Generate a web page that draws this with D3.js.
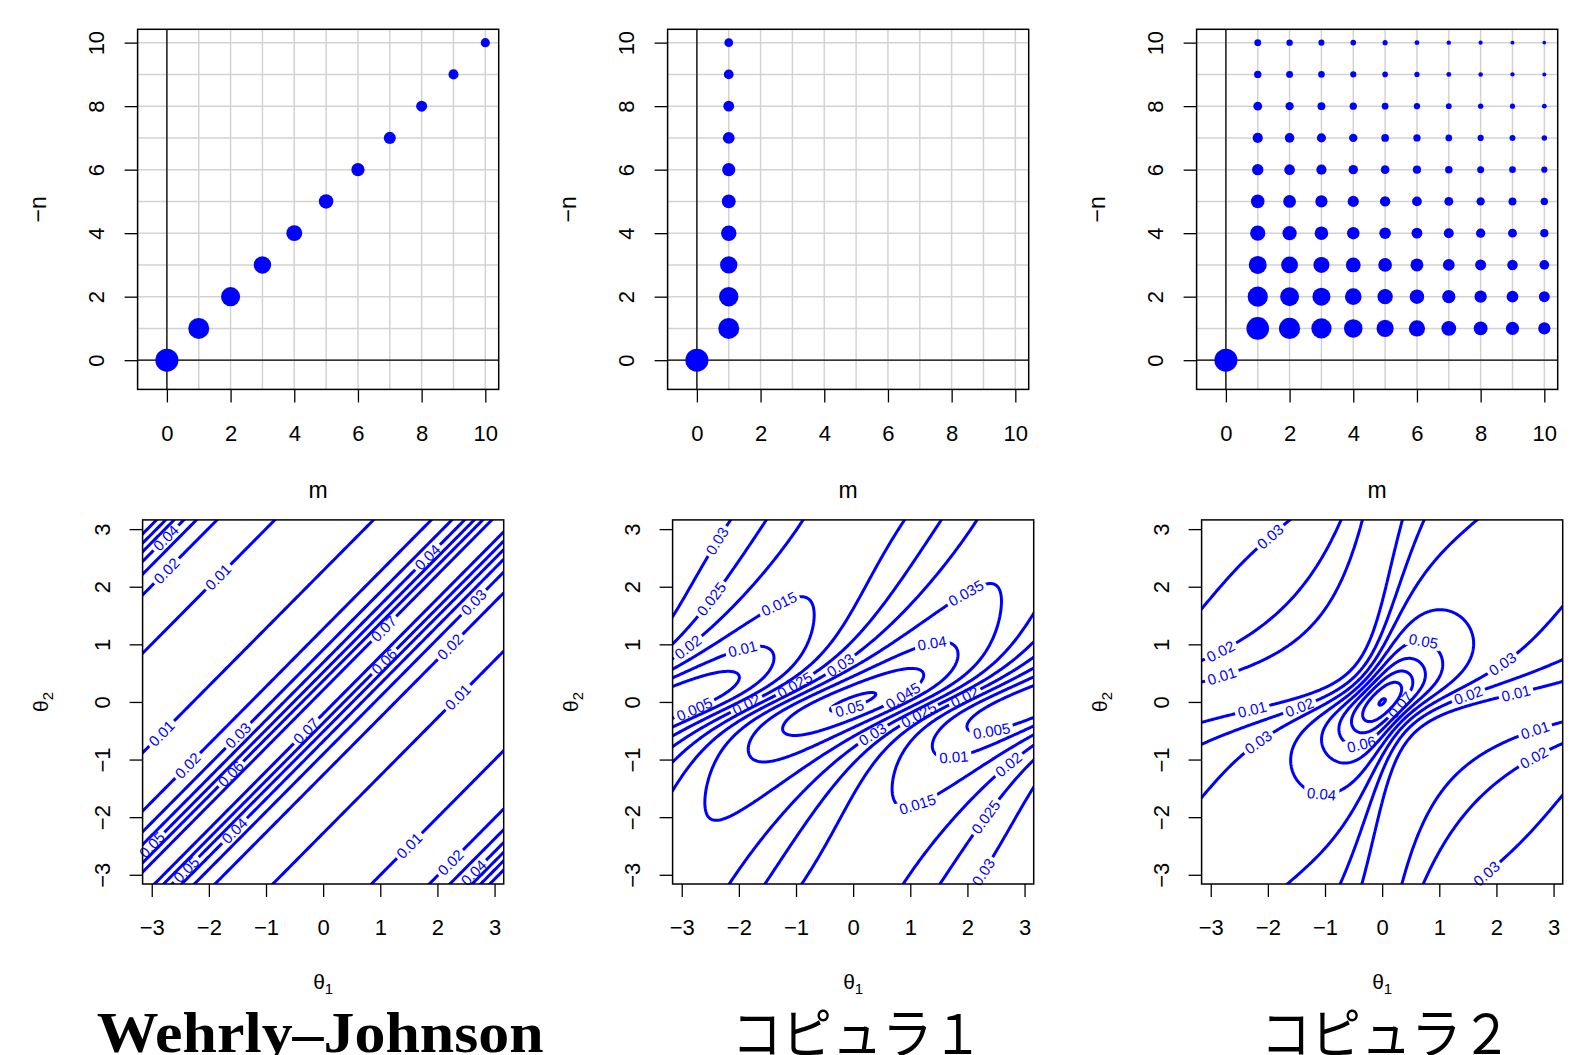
<!DOCTYPE html>
<html><head><meta charset="utf-8">
<script src="https://cdn.jsdelivr.net/npm/d3@7"></script>
<style>body{margin:0;background:#fff} svg{display:block}</style>
</head><body>
<svg id="chart" width="1586" height="1055"></svg>
<script>
// ---------------- DATA ----------------
const mTicks = [0, 2, 4, 6, 8, 10];
const nTicks = [0, 2, 4, 6, 8, 10];
const gridVals = [0, 1, 2, 3, 4, 5, 6, 7, 8, 9, 10];
const thetaTicks = [-3, -2, -1, 0, 1, 2, 3];

// Wehrly–Johnson: Fourier coefficients on the diagonal m = -n
const wjM    = [0, 1, 2, 3, 4, 5, 6, 7, 8, 9, 10];
const wjN    = [0, 1, 2, 3, 4, 5, 6, 7, 8, 9, 10];
const wjCoef = [1, 0.5, 0.25, 0.125, 0.0625, 0.031, 0.016, 0.0078, 0.0039, 0.002, 0.001];

// Copula 1: coefficients at (0,0) and (1, n)
const cop1M    = [0, 1, 1, 1, 1, 1, 1, 1, 1, 1, 1];
const cop1N    = [0, 1, 2, 3, 4, 5, 6, 7, 8, 9, 10];
const cop1Coef = [1, 0.5, 0.28, 0.12, 0.05, 0.022, 0.015, 0.0066, 0.0034, 0.0016, 0.0007];

// Copula 2: coefficient at (0,0) and grid m,n = 1..10 (rows: n = 1..10, cols: m = 1..10)
const cop2Origin = 1;
const cop2M = [1, 2, 3, 4, 5, 6, 7, 8, 9, 10];
const cop2N = [1, 2, 3, 4, 5, 6, 7, 8, 9, 10];
const cop2Coef = [
  [0.88, 0.54, 0.38, 0.20, 0.11, 0.072, 0.036, 0.022, 0.015, 0.0085],
  [0.38, 0.23, 0.16, 0.087, 0.048, 0.031, 0.016, 0.0092, 0.0066, 0.0037],
  [0.16, 0.098, 0.068, 0.037, 0.020, 0.013, 0.0066, 0.0039, 0.0028, 0.0015],
  [0.044, 0.027, 0.019, 0.010, 0.0057, 0.0036, 0.0018, 0.0011, 0.00078, 0.00043],
  [0.019, 0.012, 0.0083, 0.0044, 0.0025, 0.0016, 0.0008, 0.00047, 0.00034, 0.00019],
  [0.0051, 0.0031, 0.0022, 0.0012, 0.00065, 0.00042, 0.00021, 0.00013, 0.00009, 0.000049],
  [0.0022, 0.0014, 0.00095, 0.00051, 0.00028, 0.00018, 0.000091, 0.000054, 0.000039, 0.000021],
  [0.00073, 0.00045, 0.00031, 0.00017, 0.000093, 0.000059, 0.00003, 0.000018, 0.000013, 0.0000071],
  [0.0002, 0.00012, 0.000085, 0.000046, 0.000025, 0.000016, 0.0000082, 0.0000049, 0.0000035, 0.0000019],
  [0.000105, 0.000065, 0.000045, 0.000024, 0.000013, 0.0000086, 0.0000044, 0.0000026, 0.0000018, 0.000001]
];

// Contour levels
const wjLevels   = [0.01, 0.02, 0.03, 0.04, 0.05, 0.06, 0.07];
const cop1Levels = [0.005, 0.01, 0.015, 0.02, 0.025, 0.03, 0.035, 0.04, 0.045, 0.05];
const cop2Levels = [0.01, 0.02, 0.03, 0.04, 0.05, 0.06, 0.07, 0.08, 0.09];

// density parameters
const wjRho = 0.5;
const cop1Beta = 0.5, cop1K = 0.5;
const cop2Alpha = 0.5, cop2Beta = 0.5, cop2Lambda = 1.284;

// contour label anchors [level, theta1, theta2]
const wjLabels = [
  [0.04,-2.75,2.84],[0.02,-2.72,2.27],[0.01,-1.81,2.15],[0.04,1.86,2.48],[0.07,1.08,1.24],
  [0.06,1.14,0.63],[0.03,2.68,1.69],[0.02,2.27,0.90],[0.01,2.42,0.02],[0.01,-2.72,-0.64],
  [0.02,-2.25,-1.22],[0.03,-1.41,-0.67],[0.06,-1.52,-1.34],[0.07,-0.21,-0.58],[0.05,-2.90,-2.58],
  [0.04,-1.46,-2.34],[0.05,-2.31,-3.0],[0.01,1.66,-2.65],[0.02,2.39,-2.95],[0.04,2.74,-3.07]
];
const cop1Labels = [
  [0.03,-2.40,2.81],[0.025,-2.46,1.78],[0.015,-1.20,1.51],[0.02,-2.85,0.90],[0.01,-1.89,0.74],
  [0.005,-2.72,-0.25],[0.02,-1.79,-0.19],[0.025,-0.97,0.21],[0.03,-0.15,0.54],[0.045,0.76,0.30],
  [0.05,-0.03,-0.19],[0.04,1.43,0.78],[0.035,2.10,1.66],[0.02,2.01,-0.04],[0.025,1.22,-0.37],
  [0.03,0.43,-0.70],[0.005,2.45,-0.58],[0.01,1.78,-1.07],[0.015,1.14,-1.80],[0.02,2.83,-1.22],
  [0.025,2.42,-2.07],[0.03,2.36,-3.01]
];
const cop2Labels = [
  [0.03,-1.97,2.87],[0.02,-2.79,0.81],[0.01,-2.79,0.39],[0.01,-2.24,-0.28],[0.02,-1.42,-0.16],
  [0.03,-2.06,-0.83],[0.07,0.13,0.12],[0.05,0.66,0.72],[0.06,-0.37,-0.73],[0.04,-1.07,-1.70],
  [0.03,2.18,0.57],[0.02,1.56,-0.04],[0.01,2.38,-0.01],[0.01,2.73,-0.67],[0.02,2.76,-1.13],
  [0.03,1.91,-3.07]
];

const titles = ["Wehrly\u2013Johnson", "\u30b3\u30d4\u30e5\u30e9\uff11", "\u30b3\u30d4\u30e5\u30e9\uff12"];

// ---------------- LAYOUT ----------------
const topBoxX = [137.6, 667.6, 1196.6], topBoxY = 29.3, topBoxW = 361.1, topBoxH = 360.1;
const botBoxX = [142.6, 672.6, 1201.6], botBoxY = 519.9, botBoxW = 361.1, botBoxH = 364.1;
const SANS = "'Liberation Sans', Arial, Helvetica, sans-serif";
const BLUE = "#0000ff";
const intFmt = d3.format("d");

const svg = d3.select("#chart");
svg.append("rect").attr("width", 1586).attr("height", 1055).attr("fill", "#fff");
const defs = svg.append("defs");

const rScale = d3.scalePow().exponent(0.133).domain([0, 1]).range([0, 11.5]);

function styleAxisText(ga) {
  ga.attr("font-size", 22).attr("font-family", SANS);
  ga.select(".domain").remove();
  ga.selectAll(".tick line").attr("stroke", "#000").attr("stroke-width", 1.3);
  ga.selectAll(".tick text").attr("fill", "#000");
}

function axes(g, x, y, bx, by, bw, bh, xt, yt, xoff, yoff) {
  const gx = g.append("g").attr("transform", `translate(0,${by + bh})`)
    .call(d3.axisBottom(x).tickValues(xt).tickSize(13).tickFormat(intFmt));
  styleAxisText(gx);
  gx.selectAll(".tick text").attr("y", xoff).attr("dy", "0.35em");
  const gy = g.append("g").attr("transform", `translate(${bx},0)`)
    .call(d3.axisLeft(y).tickValues(yt).tickSize(13).tickFormat(intFmt));
  styleAxisText(gy);
  gy.selectAll(".tick text").attr("x", 0).attr("dy", "0.35em").attr("text-anchor", "middle")
    .attr("transform", `translate(${-yoff},0) rotate(-90)`);
}

function dotPanel(i, pts) {
  const bx = topBoxX[i], by = topBoxY, bw = topBoxW, bh = topBoxH;
  const x = d3.scaleLinear().domain([-0.92, 10.42]).range([bx, bx + bw]);
  const y = d3.scaleLinear().domain([-0.92, 10.42]).range([by + bh, by]);
  const g = svg.append("g");
  g.selectAll(".gv").data(gridVals).join("line")
    .attr("x1", d => x(d)).attr("x2", d => x(d)).attr("y1", by).attr("y2", by + bh)
    .attr("stroke", "#d3d3d3").attr("stroke-width", 1.5);
  g.selectAll(".gh").data(gridVals).join("line")
    .attr("y1", d => y(d)).attr("y2", d => y(d)).attr("x1", bx).attr("x2", bx + bw)
    .attr("stroke", "#d3d3d3").attr("stroke-width", 1.5);
  g.append("line").attr("x1", x(0)).attr("x2", x(0)).attr("y1", by).attr("y2", by + bh)
    .attr("stroke", "#000").attr("stroke-width", 1.3);
  g.append("line").attr("y1", y(0)).attr("y2", y(0)).attr("x1", bx).attr("x2", bx + bw)
    .attr("stroke", "#000").attr("stroke-width", 1.3);
  g.selectAll("circle.pt").data(pts).join("circle")
    .attr("cx", d => x(d.m)).attr("cy", d => y(d.n)).attr("r", d => rScale(d.c)).attr("fill", BLUE);
  g.append("rect").attr("x", bx).attr("y", by).attr("width", bw).attr("height", bh)
    .attr("fill", "none").attr("stroke", "#000").attr("stroke-width", 1.5);
  axes(g, x, y, bx, by, bw, bh, mTicks, nTicks, 43.6, 41.6);
  g.append("text").attr("x", bx + bw / 2).attr("y", by + bh + 100.2).attr("dy", "0.35em")
    .attr("text-anchor", "middle").attr("font-family", SANS).attr("font-size", 23).text("m");
  g.append("text").attr("transform", `translate(${bx - 99.2},${by + bh / 2}) rotate(-90)`)
    .attr("dy", "0.35em").attr("text-anchor", "middle").attr("font-family", SANS)
    .attr("font-size", 23).text("\u2212n");
}

// ----- contour machinery -----
function contourLines(fn, levels, xs, ys) {
  const N = 321, lo = -3.4, hi = 3.4, h = (hi - lo) / (N - 1);
  const vals = new Float64Array(N * N);
  for (let j = 0; j < N; j++) for (let i = 0; i < N; i++) vals[j * N + i] = fn(lo + i * h, lo + j * h);
  const out = [];
  const isB = p => p[0] <= 0 || p[0] >= N || p[1] <= 0 || p[1] >= N;
  const toPx = p => [xs(lo + (p[0] - 0.5) * h), ys(lo + (p[1] - 0.5) * h)];
  d3.contours().size([N, N]).thresholds(levels)(vals).forEach(mp => {
    mp.coordinates.forEach(poly => poly.forEach(ring => {
      const hasB = ring.some(isB);
      if (!hasB) { out.push({ level: mp.value, closed: true, pts: ring.map(toPx) }); return; }
      const runs = []; let cur = [];
      ring.forEach(p => { if (isB(p)) { if (cur.length > 1) runs.push(cur); cur = []; } else cur.push(p); });
      if (cur.length > 1) runs.push(cur);
      if (!isB(ring[0]) && runs.length > 1) {
        const last = runs.pop(); runs[0] = last.concat(runs[0].slice(1));
      }
      runs.forEach(r => out.push({ level: mp.value, closed: false, pts: r.map(toPx) }));
    }));
  });
  return out;
}

function contourPanel(i, fn, levels, anchors) {
  const bx = botBoxX[i], by = botBoxY, bw = botBoxW, bh = botBoxH;
  const x = d3.scaleLinear().domain([-3.16, 3.16]).range([bx, bx + bw]);
  const y = d3.scaleLinear().domain([-3.16, 3.16]).range([by + bh, by]);
  const lines = contourLines(fn, levels, x, y);
  const g = svg.append("g");
  const clipId = "clip" + i;
  defs.append("clipPath").attr("id", clipId).append("rect")
    .attr("x", bx).attr("y", by).attr("width", bw).attr("height", bh);

  const labs = [];
  anchors.forEach(a => {
    const tx = x(a[1]), ty = y(a[2]);
    let best = null, bd = Infinity;
    lines.forEach(L => {
      if (Math.abs(L.level - a[0]) > 1e-9) return;
      L.pts.forEach((p, k) => {
        const d = (p[0] - tx) ** 2 + (p[1] - ty) ** 2;
        if (d < bd) { bd = d; best = { L, k }; }
      });
    });
    if (!best) return;
    const P = best.L.pts, n = P.length, c = P[best.k];
    const walk = dir => {
      let k = best.k, acc = 0;
      for (let s = 0; s < n; s++) {
        let nk = k + dir;
        if (best.L.closed) nk = (nk + n) % n; else if (nk < 0 || nk >= n) break;
        acc += Math.hypot(P[nk][0] - P[k][0], P[nk][1] - P[k][1]);
        k = nk; if (acc > 16) break;
      }
      return P[k];
    };
    const p1 = walk(-1), p2 = walk(1);
    let ang = Math.atan2(p2[1] - p1[1], p2[0] - p1[0]) * 180 / Math.PI;
    if (ang > 90) ang -= 180; if (ang < -90) ang += 180;
    labs.push({ level: a[0], x: c[0], y: c[1], ang });
  });

  const lg = g.append("g");
  const texts = lg.selectAll("text").data(labs).join("text")
    .attr("transform", d => `translate(${d.x},${d.y}) rotate(${d.ang})`)
    .attr("dy", "0.35em").attr("text-anchor", "middle").attr("font-family", SANS)
    .attr("font-size", 15).attr("fill", BLUE).text(d => String(d.level));
  texts.each(function (d) { d.w = this.getComputedTextLength(); });

  const cg = g.insert("g", ":first-child").attr("clip-path", `url(#${clipId})`);
  levels.forEach((lev, li) => {
    const mid = `mask${i}_${li}`;
    const mk = defs.append("mask").attr("id", mid).attr("maskUnits", "userSpaceOnUse")
      .attr("x", 0).attr("y", 0).attr("width", 1586).attr("height", 1055);
    mk.append("rect").attr("x", 0).attr("y", 0).attr("width", 1586).attr("height", 1055).attr("fill", "#fff");
    labs.filter(d => Math.abs(d.level - lev) < 1e-9).forEach(d => {
      mk.append("rect").attr("x", -d.w / 2 - 3).attr("y", -7).attr("width", d.w + 6).attr("height", 14)
        .attr("transform", `translate(${d.x},${d.y}) rotate(${d.ang})`).attr("fill", "#000");
    });
    const ls = lines.filter(L => Math.abs(L.level - lev) < 1e-9);
    const pathStr = ls.map(L => "M" + L.pts.map(p => p[0].toFixed(2) + "," + p[1].toFixed(2)).join("L") + (L.closed ? "Z" : "")).join("");
    cg.append("path").attr("d", pathStr).attr("fill", "none").attr("stroke", BLUE)
      .attr("stroke-width", 3).attr("stroke-linejoin", "round").attr("mask", `url(#${mid})`);
  });

  g.append("rect").attr("x", bx).attr("y", by).attr("width", bw).attr("height", bh)
    .attr("fill", "none").attr("stroke", "#000").attr("stroke-width", 1.5);
  axes(g, x, y, bx, by, bw, bh, thetaTicks, thetaTicks, 43.5, 40.6);
  const tl = g.append("text").attr("x", bx + bw / 2).attr("y", by + bh + 98).attr("dy", "0.35em")
    .attr("text-anchor", "middle").attr("font-family", SANS).attr("font-size", 21);
  tl.append("tspan").text("\u03b8");
  tl.append("tspan").attr("font-size", 15).attr("dy", 5).text("1");
  const yl = g.append("text").attr("transform", `translate(${bx - 102},${by + bh / 2}) rotate(-90)`)
    .attr("dy", "0.35em").attr("text-anchor", "middle").attr("font-family", SANS).attr("font-size", 21);
  yl.append("tspan").text("\u03b8");
  yl.append("tspan").attr("font-size", 15).attr("dy", 5).text("2");
}

// densities
const FOUR_PI2 = 4 * Math.PI * Math.PI;
const zRe = (t, a) => (a * Math.cos(t) - a * a) / (1 - 2 * a * Math.cos(t) + a * a);
const zIm = (t, a) => (a * Math.sin(t)) / (1 - 2 * a * Math.cos(t) + a * a);
const wjDensity = (t1, t2) => (1 - wjRho * wjRho) / (1 + wjRho * wjRho - 2 * wjRho * Math.cos(t1 - t2)) / FOUR_PI2;
const cop1Density = (t1, t2) =>
  (1 + 2 * cop1K * (Math.cos(t1) * zRe(t2, cop1Beta) + Math.sin(t1) * zIm(t2, cop1Beta))) / FOUR_PI2;
const cop2Density = (t1, t2) =>
  (1 + 2 * cop2Lambda * (zRe(t1, cop2Alpha) * zRe(t2, cop2Beta) + zIm(t1, cop2Alpha) * zIm(t2, cop2Beta))) / FOUR_PI2;

// ---------------- DRAW ----------------
dotPanel(0, wjM.map((m, k) => ({ m, n: wjN[k], c: wjCoef[k] })));
dotPanel(1, cop1M.map((m, k) => ({ m, n: cop1N[k], c: cop1Coef[k] })));
const c2pts = [{ m: 0, n: 0, c: cop2Origin }];
cop2N.forEach((n, r) => cop2M.forEach((m, c) => c2pts.push({ m, n, c: cop2Coef[r][c] })));
dotPanel(2, c2pts);

contourPanel(0, wjDensity, wjLevels, wjLabels);
contourPanel(1, cop1Density, cop1Levels, cop1Labels);
contourPanel(2, cop2Density, cop2Levels, cop2Labels);

// titles
titles.forEach((t, i) => {
  const cx = botBoxX[i] + botBoxW / 2;
  const el = svg.append("text").attr("x", cx - (i === 0 ? 3 : -4)).attr("text-anchor", "middle").text(t);
  if (i === 0) {
    el.attr("y", 1052).attr("font-family", "'Liberation Serif', 'DejaVu Serif', serif")
      .attr("font-weight", "bold").attr("font-size", 56)
      .attr("textLength", 447).attr("lengthAdjust", "spacingAndGlyphs");
  } else {
    el.attr("y", 1054).attr("font-family", "'Noto Sans CJK JP', 'Noto Sans CJK SC', sans-serif")
      .attr("font-size", 54).attr("textLength", 251).attr("lengthAdjust", "spacingAndGlyphs");
  }
});
</script>
</body></html>
